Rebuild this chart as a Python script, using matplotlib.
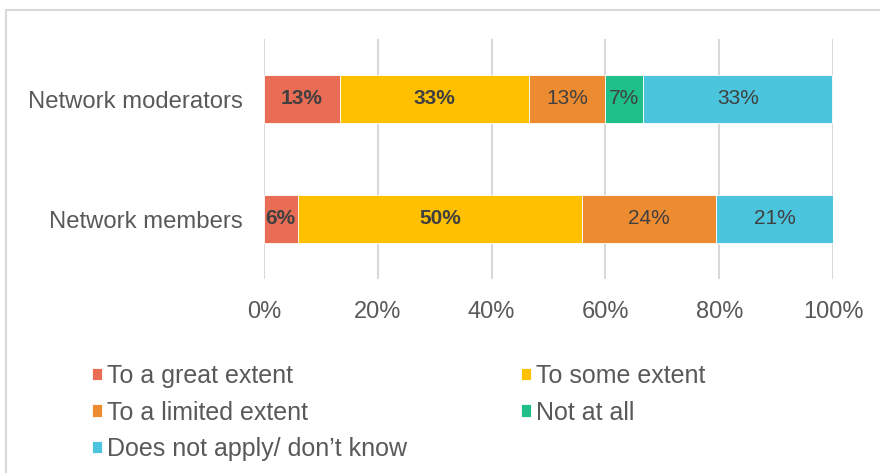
import numpy as np
import matplotlib
matplotlib.use("Agg")
from matplotlib import pyplot as plt
from matplotlib.patches import Rectangle

plt.rcParams['font.family'] = ['Liberation Sans', 'DejaVu Sans']

groups = ["Network moderators", "Network members"]
series = ["To a great extent", "To some extent", "To a limited extent",
          "Not at all", "Does not apply/ don\u2019t know"]
# shares in percent, one list per series (moderators, members)
great = [13.3, 5.9]
some = [33.3, 50.0]
limited = [13.3, 23.5]
not_at_all = [6.7, 0.0]
dont_know = [33.3, 20.6]
values = [great, some, limited, not_at_all, dont_know]
colors = ["#E96C55", "#FFC000", "#ED8B30", "#1EBF89", "#4BC5DD"]
bold = [True, True, False, False, False]
ticks = [0, 20, 40, 60, 80, 100]

fig = plt.figure(figsize=(8.8, 4.73), dpi=100)
W, H = 880, 473
ax = fig.add_axes([264 / W, 1 - 279 / H, (833 - 264) / W, 240 / H])

# outer frame
fig.patches.append(Rectangle((6 / W, -0.1), 1.2, 1 - 10 / H + 0.1,
                             transform=fig.transFigure, fill=False,
                             edgecolor="#D9D9D9", lw=1.5, zorder=0))

y = np.arange(len(groups))
left = np.zeros(len(groups))
handles = []
for vals, c, b, name in zip(values, colors, bold, series):
    vals = np.array(vals)
    bars = ax.barh(y, vals, left=left, height=0.4, color=c,
                   edgecolor="white", linewidth=0.6, label=name, zorder=3)
    handles.append(bars)
    for yi, v, l in zip(y, vals, left):
        if v > 0:
            ax.text(l + v / 2, yi, "%d%%" % round(v), ha="center", va="center",
                    fontsize=15, color="#404040",
                    fontweight="bold" if b else "normal", zorder=4)
    left += vals

ax.set_xlim(0, 100)
ax.set_ylim(1.5, -0.5)
ax.set_yticks(y)
ax.set_yticklabels(groups)
ax.set_xticks(ticks)
ax.set_xticklabels(["%d%%" % t for t in ticks])
ax.tick_params(axis="both", length=0, labelsize=17, colors="#595959")
ax.tick_params(axis="y", labelsize=17.2, pad=15)
ax.tick_params(axis="x", pad=15.5)
ax.grid(axis="x", color="#D9D9D9", lw=1.5, zorder=0)
for s in ax.spines.values():
    s.set_visible(False)

order = [0, 2, 4, 1, 3]
fig.legend([handles[i] for i in order], [series[i] for i in order],
           loc="upper left", bbox_to_anchor=(92 / W, 1 - 364 / H),
           ncol=2, frameon=False, fontsize=18, labelcolor="#595959",
           handlelength=0.4, handleheight=0.4, handletextpad=0.2,
           columnspacing=4.55, labelspacing=0.5, borderaxespad=0,
           borderpad=0)

fig.savefig("out.png", dpi=100)
